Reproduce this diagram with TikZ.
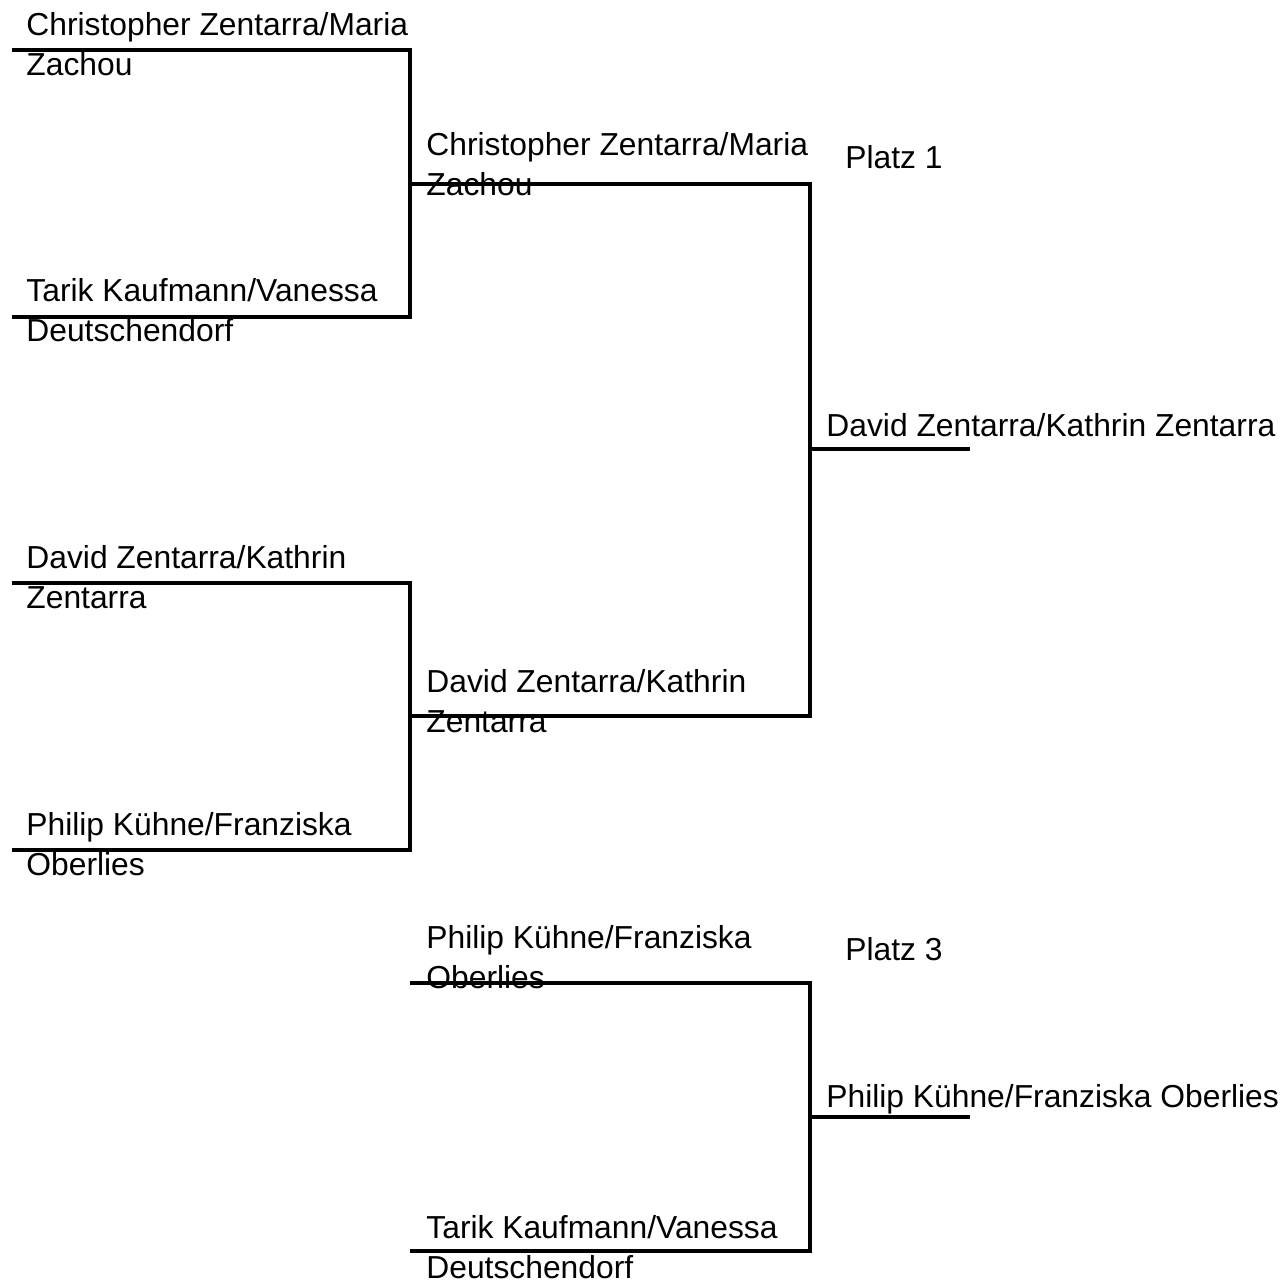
\documentclass[tikz,border=0pt]{standalone}
\usepackage{fontspec}
\setmainfont{Liberation Sans}
\begin{document}
\begin{tikzpicture}[x=0.5pt,y=-0.5pt]
	\tikzstyle{team} = [anchor=base west, inner sep=0pt, align=left, font=\fontsize{15.9}{20}\selectfont];
	\tikzstyle{bracket} = [line width=2.4pt, line join=miter];
	\useasboundingbox (0,0) rectangle (1281,1283);
	% ends of the brackets
	\coordinate (s1) at (12,50);
	\coordinate (s2) at (12,317);
	\coordinate (s3) at (12,583);
	\coordinate (s4) at (12,850);
	\coordinate (m1) at (410,184);
	\coordinate (m2) at (410,716);
	\coordinate (fin) at (810,449);
	\coordinate (champ) at (970,449);
	\coordinate (t1) at (410,983);
	\coordinate (t2) at (410,1251);
	\coordinate (tf) at (810,1117);
	\coordinate (bronze) at (970,1117);
	\draw [bracket] (s1) -| (m1) |- (s2);
	\draw [bracket] (s3) -| (m2) |- (s4);
	\draw [bracket] (m1) -| (fin) |- (m2);
	\draw [bracket] (fin) -- (champ);
	\draw [bracket] (t1) -| (tf) |- (t2);
	\draw [bracket] (tf) -- (bronze);
	% first round (base = second line)
	\node (r1a) [team] at (26,76) {Christopher Zentarra/Maria\\Zachou};
	\node (r1b) [team] at (26,342) {Tarik Kaufmann/Vanessa\\Deutschendorf};
	\node (r1c) [team] at (26,608) {David Zentarra/Kathrin\\Zentarra};
	\node (r1d) [team] at (26,875) {Philip Kühne/Franziska\\Oberlies};
	% final
	\node (r2a) [team] at (426,196) {Christopher Zentarra/Maria\\Zachou};
	\node (r2b) [team] at (426,732) {David Zentarra/Kathrin\\Zentarra};
	\node (win) [team] at (826,436) {David Zentarra/Kathrin Zentarra};
	\node (p1) [team] at (845,169) {Platz 1};
	% third place
	\node (r3a) [team] at (426,988) {Philip Kühne/Franziska\\Oberlies};
	\node (r3b) [team] at (426,1278) {Tarik Kaufmann/Vanessa\\Deutschendorf};
	\node (third) [team] at (826,1107) {Philip Kühne/Franziska Oberlies};
	\node (p3) [team] at (845,960) {Platz 3};
\end{tikzpicture}
\end{document}
